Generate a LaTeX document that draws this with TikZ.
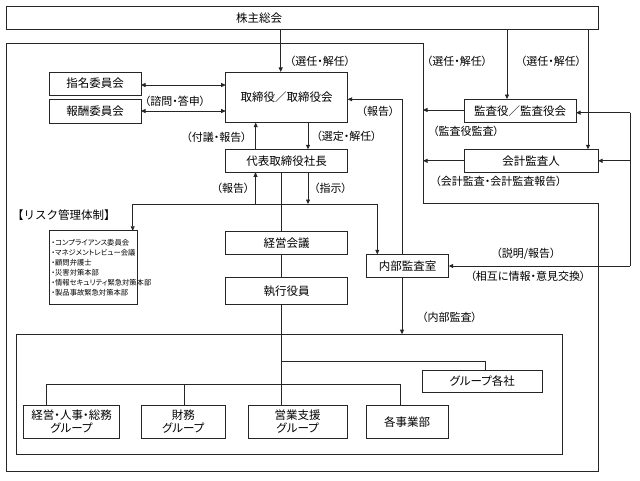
\documentclass[tikz,border=0pt]{standalone}
\usepackage{fontspec}
\usetikzlibrary{arrows.meta}
\newfontfamily\jp{Noto Sans CJK JP}
\newfontfamily\jpp[RawFeature=+palt]{Noto Sans CJK JP}
\begin{document}
\begin{tikzpicture}[x=1pt,y=-1pt,
  ln/.style={draw=black!85, line width=0.7pt},
  box/.style={ln, inner sep=0pt, outer sep=0pt, align=center, font=\jp\fontsize{11.5}{13}\selectfont},
  pbox/.style={box, font=\jpp\fontsize{11.5}{13}\selectfont},
  lbl/.style={inner sep=0pt, font=\jpp\fontsize{11}{13}\selectfont},
  arr/.style={ln, -{Triangle[length=4.5pt,width=4pt]}},
  darr/.style={ln, {Triangle[length=4.5pt,width=4pt]}-{Triangle[length=4.5pt,width=4pt]}}]
\useasboundingbox (0,0) rectangle (640,480);
\fill[white] (0,0) rectangle (640,480);

% outer frame
\draw[ln] (6,43.3) -- (423,43.3) -- (423,203) -- (598,203) -- (598,471.5) -- (6,471.5) -- cycle;

% boxes
\node[box, minimum width=592pt, minimum height=23.3pt] (kabu) at (302,17.7) {};
\node[lbl, font=\jp\fontsize{11.5}{13}\selectfont] (kabut) at (259,18) {株主総会};
\node[box, minimum width=92pt, minimum height=23pt] (shimei) at (95,83.5) {指名委員会};
\node[box, minimum width=92pt, minimum height=24pt] (houshu) at (95,111) {報酬委員会};
\node[box, minimum width=122pt, minimum height=50.7pt] (tori) at (286.7,97.3) {取締役／取締役会};
\node[box, minimum width=122pt, minimum height=23pt] (daihyo) at (286.7,160.8) {代表取締役社長};
\node[box, minimum width=122pt, minimum height=23.3pt] (keiei) at (286.7,242.7) {経営会議};
\node[box, minimum width=122pt, minimum height=27pt] (shikko) at (286.7,290.8) {執行役員};
\node[box, minimum width=82.4pt, minimum height=23pt] (naibu) at (407.5,265.8) {内部監査室};
\node[box, minimum width=111.7pt, minimum height=23.7pt] (kansa) at (520.2,110.9) {監査役／監査役会};
\node[box, minimum width=133.7pt, minimum height=23pt] (kaikei) at (531.2,160.8) {会計監査人};
\node[box, minimum width=88.4pt, minimum height=73.3pt, text width=84pt, align=left,
      font=\jpp\fontsize{7.3}{10}\selectfont] (risk) at (93.5,267.4)
  {・コンプライアンス委員会\\・マネジメントレビュー会議\\・顧問弁護士\\・災害対策本部\\・情報セキュリティ緊急対策本部\\・製品事故緊急対策本部};
\node[box, minimum width=546.1pt, minimum height=120.6pt] (inner) at (289.35,394.5) {};
\node[pbox, minimum width=119.6pt, minimum height=22.7pt] (group) at (482.2,381.4) {グループ各社};
\node[pbox, minimum width=96.3pt, minimum height=32.8pt] (kj) at (71.5,421.8) {経営・人事・総務\\グループ};
\node[pbox, minimum width=84.9pt, minimum height=32.8pt] (zaimu) at (183.3,421.8) {財務\\グループ};
\node[pbox, minimum width=99.5pt, minimum height=32.8pt] (eigyo) at (297.6,421.8) {営業支援\\グループ};
\node[pbox, minimum width=81.3pt, minimum height=32.8pt] (jigyo) at (407.2,421.8) {各事業部};

% labels
\node[lbl] (l1) at (320,61) {（選任・解任）};
\node[lbl] (l2) at (457,61) {（選任・解任）};
\node[lbl] (l3) at (551,61) {（選任・解任）};
\node[lbl] (l4) at (175,101) {（諮問・答申）};
\node[lbl] (l5) at (378,111) {（報告）};
\node[lbl] (l6) at (216.5,137) {（付議・報告）};
\node[lbl] (l7) at (346.5,136) {（選定・解任）};
\node[lbl] (l8) at (233,188) {（報告）};
\node[lbl] (l9) at (330.5,188) {（指示）};
\node[lbl, font=\jp\fontsize{11.5}{13}\selectfont] (l10) at (64,215) {【リスク管理体制】};
\node[lbl] (l11) at (466,131) {（監査役監査）};
\node[lbl] (l12) at (498.5,181.7) {（会計監査・会計監査報告）};
\node[lbl] (l13) at (526,253.3) {（説明/報告）};
\node[lbl] (l14) at (528,276.7) {（相互に情報・意見交換）};
\node[lbl] (l15) at (449.5,317) {（内部監査）};

% connectors from shareholders meeting
\draw[arr] (280.7,0 |- kabu.south) -- (280.7,0 |- tori.north);
\draw[arr] (507,0 |- kabu.south) -- (507,0 |- kansa.north);
\draw[arr] (588,0 |- kabu.south) -- (588,0 |- kaikei.north);

% committees
\draw[darr] (shimei.east |- 0,85) -- (tori.west |- 0,85);
\draw[darr] (houshu.east) -- (houshu.east -| tori.west);

% board <-> president
\draw[arr] (308,0 |- tori.south) -- (308,0 |- daihyo.north);
\draw[arr] (255.7,0 |- daihyo.north) -- (255.7,0 |- tori.south);

% president <-> horizontal line
\coordinate (hL) at (132.7,204);
\coordinate (hR) at (377.3,204);
\draw[arr] (308,0 |- daihyo.south) -- (308,204);
\draw[arr] (255.5,204) -- (255.5,0 |- daihyo.south);
\draw[arr] (hR) -- (hL) -- (hL |- risk.north);
\draw[arr] (hL) -- (hR) -- (hR |- naibu.north);

% main vertical line
\draw[ln] (281.5,0 |- daihyo.south) -- (281.5,0 |- keiei.north);
\draw[ln] (281.5,0 |- keiei.south) -- (281.5,0 |- shikko.north);
\draw[ln] (281.5,0 |- shikko.south) -- (281.5,0 |- eigyo.north);
\draw[ln] (281.5,361) -| (485,0 |- group.north);
\draw[ln] (46,0 |- kj.north) -- (46,384.5) -- (400,384.5) -- (400,0 |- jigyo.north);
\draw[ln] (184,0 |- zaimu.north) -- (184,384.5);

% internal audit
\draw[arr] (402,0 |- naibu.north) |- ([yshift=-2pt]tori.east);
\draw[arr] (402,0 |- naibu.south) -- (402,0 |- inner.north);

% auditors to the left
\coordinate (fk) at (423,110);
\coordinate (fc) at (423,160.8);
\draw[arr] (kansa.west |- fk) -- (fk);
\draw[arr] (kaikei.west) -- (fc);

% right loop
\coordinate (rtop) at (630,112.7);
\coordinate (rbot) at (630,266);
\draw[ln] (rtop) -- (rbot);
\draw[arr] (rtop) -- (rtop -| kansa.east);
\draw[arr] (rtop |- kaikei.east) -- (kaikei.east);
\draw[arr] (rbot) -- (rbot -| naibu.east);
\end{tikzpicture}
\end{document}
